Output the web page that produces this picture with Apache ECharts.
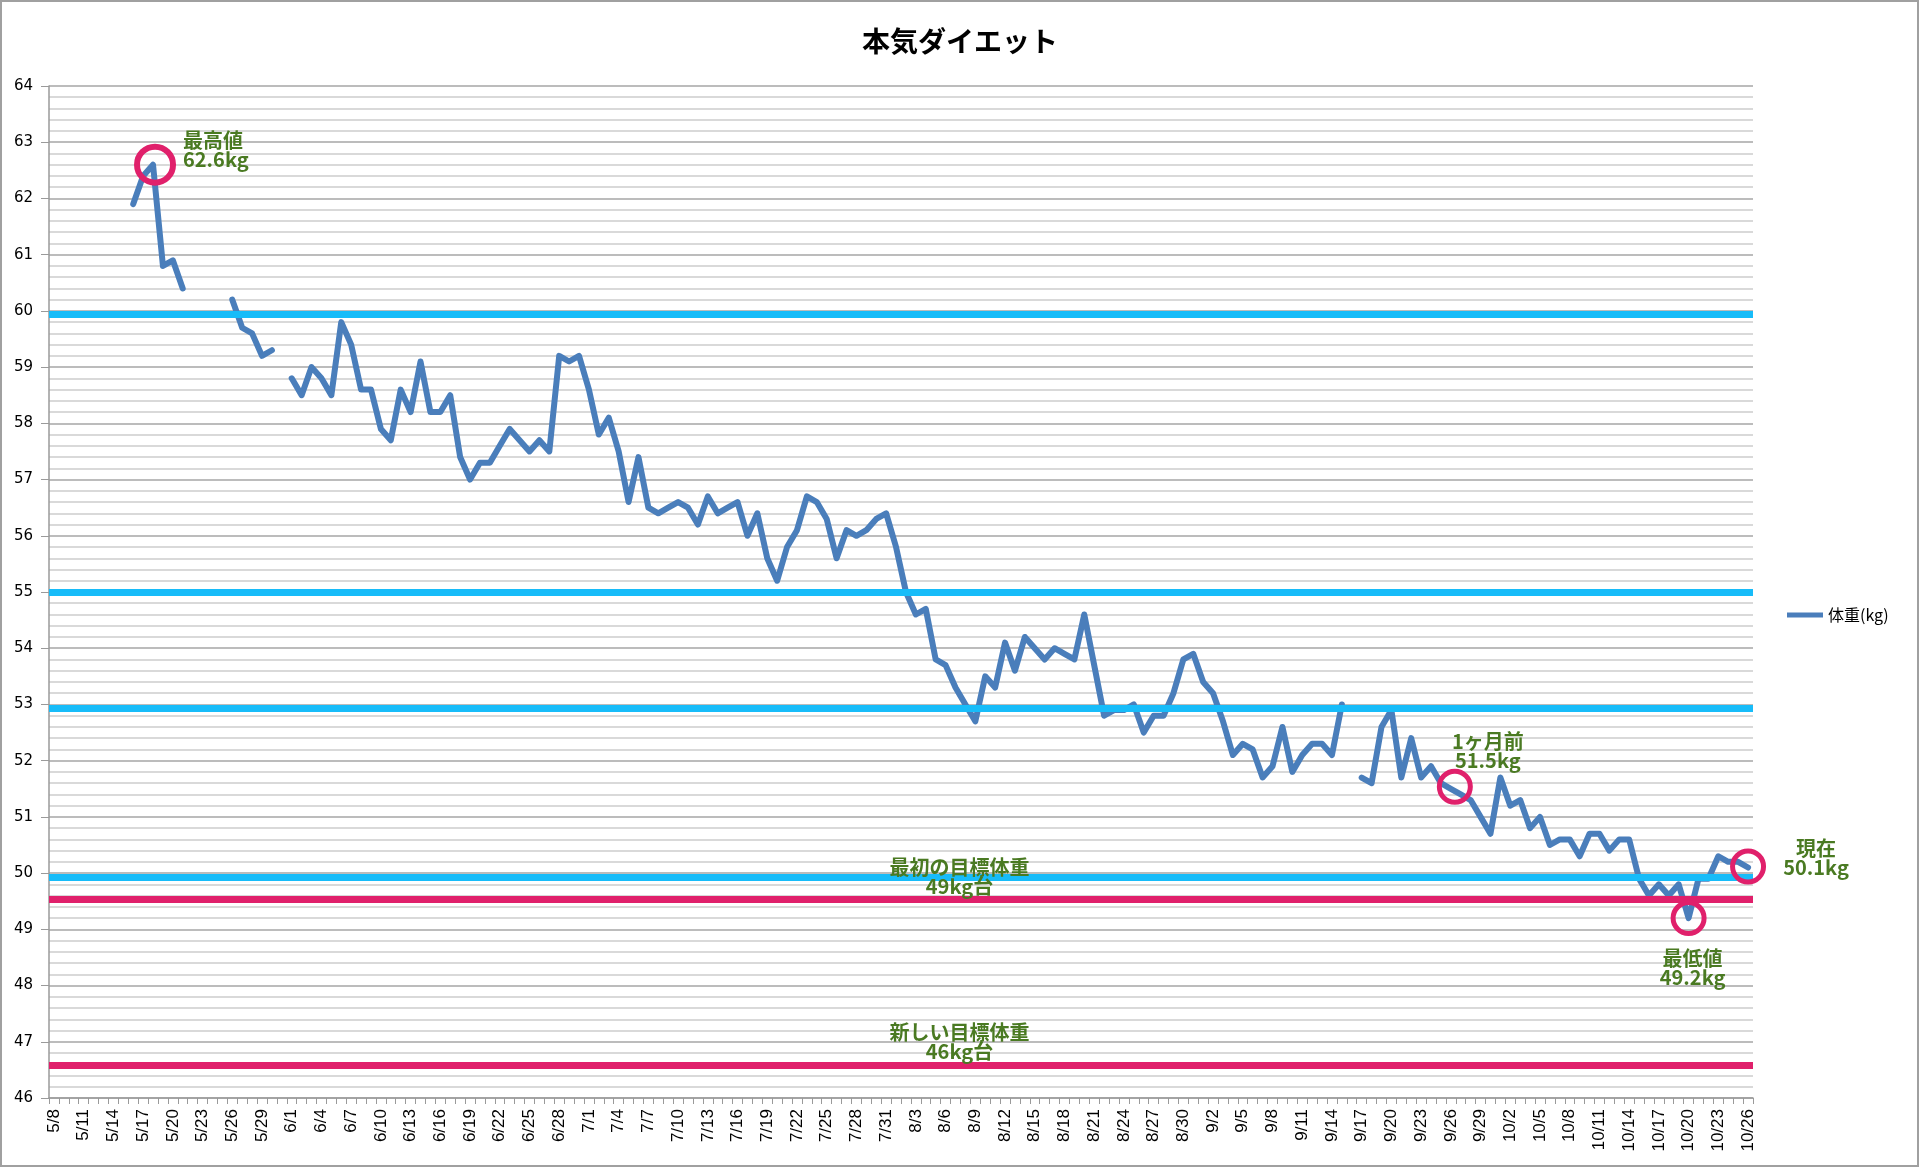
<!DOCTYPE html>
<html>
<head>
<meta charset="utf-8">
<title>本気ダイエット</title>
<script src="https://cdn.jsdelivr.net/npm/echarts@6/dist/echarts.min.js"></script>
<style>
    html, body { margin: 0; padding: 0; background: #fff; }
    #main { width: 1920px; height: 1168px; }
</style>
</head>
<body>
<div id="main"></div>
<script>
// month, first day, last day shown on the axis
var months = [[5, 8, 31], [6, 1, 30], [7, 1, 31], [8, 1, 31], [9, 1, 30], [10, 1, 26]];

// 体重(kg), one value per day, null = not measured
var weightMay = [null, null, null, null, null, null, null, null,
    61.9, 62.4, 62.6, 60.8, 60.9, 60.4, null, null, null, null,
    60.2, 59.7, 59.6, 59.2, 59.3, null];
var weightJun = [58.8, 58.5, 59.0, 58.8, 58.5, 59.8, 59.4, 58.6, 58.6, 57.9,
    57.7, 58.6, 58.2, 59.1, 58.2, 58.2, 58.5, 57.4, 57.0, 57.3,
    57.3, 57.6, 57.9, 57.7, 57.5, 57.7, 57.5, 59.2, 59.1, 59.2];
var weightJul = [58.6, 57.8, 58.1, 57.5, 56.6, 57.4, 56.5, 56.4, 56.5, 56.6,
    56.5, 56.2, 56.7, 56.4, 56.5, 56.6, 56.0, 56.4, 55.6, 55.2,
    55.8, 56.1, 56.7, 56.6, 56.3, 55.6, 56.1, 56.0, 56.1, 56.3, 56.4];
var weightAug = [55.8, 55.0, 54.6, 54.7, 53.8, 53.7, 53.3, 53.0, 52.7, 53.5,
    53.3, 54.1, 53.6, 54.2, 54.0, 53.8, 54.0, 53.9, 53.8, 54.6,
    53.7, 52.8, 52.9, 52.9, 53.0, 52.5, 52.8, 52.8, 53.2, 53.8, 53.9];
var weightSep = [53.4, 53.2, 52.7, 52.1, 52.3, 52.2, 51.7, 51.9, 52.6, 51.8,
    52.1, 52.3, 52.3, 52.1, 53.0, null, 51.7, 51.6, 52.6, 52.9,
    51.7, 52.4, 51.7, 51.9, 51.6, 51.5, 51.4, 51.3, 51.0, 50.7];
var weightOct = [51.7, 51.2, 51.3, 50.8, 51.0, 50.5, 50.6, 50.6, 50.3, 50.7,
    50.7, 50.4, 50.6, 50.6, 49.9, 49.6, 49.8, 49.6, 49.8, 49.2,
    49.9, 49.9, 50.3, 50.2, 50.2, 50.1];

// horizontal guide lines
var blueLevels = [59.94, 55.0, 52.94, 49.93];
var pinkLevels = [49.54, 46.59];

// circled points: date, value, text
var circleDates = ['5/18', '9/26', '10/20', '10/26'];
var circleValues = [62.6, 51.5, 49.2, 50.1];
var circleTexts = ['最高値\n62.6kg', '1ヶ月前\n51.5kg', '最低値\n49.2kg', '現在\n50.1kg'];

// goal captions
var goalValues = [49.93, 47.0];
var goalTexts = ['最初の目標体重\n49kg台', '新しい目標体重\n46kg台'];

var dates = [];
months.forEach(function (m) {
    for (var d = m[1]; d <= m[2]; d++) {
        dates.push(m[0] + '/' + d);
    }
});
var weights = [].concat(weightMay, weightJun, weightJul, weightAug, weightSep, weightOct);

var PINK = '#e0206b';
var CYAN = '#17bcf9';
var GREEN = '#4a7a22';
var JP = '"Noto Sans CJK JP", "Noto Sans", sans-serif';

var noteLabel = {
    show: true,
    position: 'inside',
    color: GREEN,
    fontFamily: JP,
    fontWeight: 'bold',
    fontSize: 20,
    lineHeight: 19,
    verticalAlign: 'middle'
};

// label placement per circle
var circleStyle = [
    {size: 36, border: 6, align: 'left', offset: [28, -15], shift: [2, 0]},
    {size: 31, border: 5, align: 'center', offset: [33, -36], shift: [4, -2]},
    {size: 31, border: 5, align: 'center', offset: [4, 50], shift: [0, 0]},
    {size: 31, border: 5, align: 'center', offset: [68, -9], shift: [0, -1]}
];

var points = [];
circleDates.forEach(function (d, i) {
    var s = circleStyle[i];
    points.push({
        coord: [d, circleValues[i]],
        symbol: 'circle',
        symbolSize: s.size,
        symbolOffset: s.shift,
        itemStyle: {color: 'rgba(0,0,0,0)', borderColor: PINK, borderWidth: s.border},
        label: echarts.util.extend({formatter: circleTexts[i], align: s.align, offset: s.offset},
            noteLabel)
    });
});
goalValues.forEach(function (v, i) {
    points.push({
        coord: [dates[91], v],
        symbol: 'circle',
        symbolSize: 1,
        itemStyle: {color: 'rgba(0,0,0,0)'},
        label: echarts.util.extend({formatter: goalTexts[i], align: 'center', offset: [4, 0]},
            noteLabel)
    });
});

var lines = blueLevels.map(function (v) {
    return {yAxis: v, lineStyle: {color: CYAN, width: 7, type: 'solid'}};
}).concat(pinkLevels.map(function (v) {
    return {yAxis: v, lineStyle: {color: PINK, width: 7, type: 'solid'}};
}));

var myChart = echarts.init(document.getElementById('main'));
var option = {
    animation: false,
    backgroundColor: '#fff',
    title: {
        text: '本気ダイエット',
        left: 'center',
        top: 22,
        textStyle: {fontFamily: JP, fontSize: 28, fontWeight: 'bold', color: '#000'}
    },
    legend: {
        orient: 'vertical',
        left: 1782,
        top: 602,
        itemWidth: 36,
        itemHeight: 5,
        selectedMode: false,
        data: [{name: '体重(kg)', icon: 'rect'}],
        textStyle: {fontFamily: JP, fontSize: 16, color: '#000'}
    },
    grid: {left: 49, right: 167, top: 86, bottom: 70, containLabel: false},
    xAxis: {
        type: 'category',
        data: dates,
        boundaryGap: true,
        axisLine: {lineStyle: {color: '#9a9a9a', width: 1.5}},
        axisTick: {show: true, interval: 0, length: 6, lineStyle: {color: '#9a9a9a'}},
        axisLabel: {
            interval: 2,
            rotate: 90,
            margin: 11,
            fontSize: 17,
            color: '#000',
            fontFamily: '"Liberation Sans", Arial, sans-serif'
        },
        splitLine: {show: false}
    },
    yAxis: {
        type: 'value',
        min: 46,
        max: 64,
        interval: 1,
        axisLine: {show: true, lineStyle: {color: '#9a9a9a', width: 1.5}},
        axisTick: {show: true, length: 8, lineStyle: {color: '#9a9a9a'}},
        axisLabel: {
            margin: 16,
            fontSize: 15,
            color: '#000',
            fontFamily: '"DejaVu Sans", sans-serif'
        },
        splitLine: {show: true, lineStyle: {color: '#a6a6a6', width: 1.5}},
        minorSplitLine: {show: true, lineStyle: {color: '#cdcdcd', width: 1.5}},
        minorTick: {show: false, splitNumber: 5}
    },
    graphic: [{
        type: 'rect',
        silent: true,
        shape: {x: 1, y: 1, width: 1917, height: 1165},
        style: {fill: 'none', stroke: '#a0a0a0', lineWidth: 2}
    }],
    series: [{
        name: '体重(kg)',
        type: 'line',
        data: weights,
        connectNulls: false,
        showSymbol: false,
        symbol: 'none',
        color: '#4a7ebb',
        lineStyle: {width: 6, color: '#4a7ebb', join: 'round', cap: 'round'},
        markLine: {
            silent: true,
            z: 4,
            symbol: ['none', 'none'],
            label: {show: false},
            data: lines
        },
        markPoint: {
            silent: true,
            z: 5,
            data: points
        }
    }]
};
myChart.setOption(option);
</script>
</body>
</html>
